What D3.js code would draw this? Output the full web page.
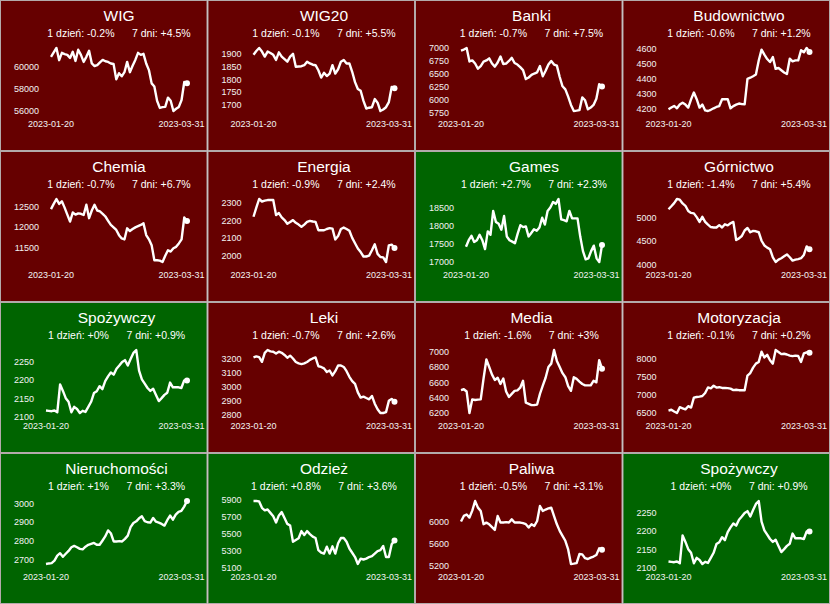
<!DOCTYPE html>
<html>
<head>
<meta charset="utf-8">
<script src="https://cdn.jsdelivr.net/npm/d3@7"></script>
<style>
  body { margin: 0; background: #fff; }
  svg { display: block; font-family: "Liberation Sans", Arial, sans-serif; }
</style>
</head>
<body>
<svg id="svg" width="830" height="604"></svg>
<script>
// sectors, in grid order (4 x 4)
const names = ["WIG", "WIG20", "Banki", "Budownictwo",
               "Chemia", "Energia", "Games", "Górnictwo",
               "Spożywczy", "Leki", "Media", "Motoryzacja",
               "Nieruchomości", "Odzież", "Paliwa", "Spożywczy"];

// change in % over 1 day and 7 days
const dayChange  = [-0.2, -0.1, -0.7, -0.6, -0.7, -0.9, 2.7, -1.4, 0, -0.7, -1.6, -0.1, 1, 0.8, -0.5, 0];
const weekChange = [4.5, 5.5, 7.5, 1.2, 6.7, 2.4, 2.3, 5.4, 0.9, 2.6, 3, 0.2, 3.3, 3.6, 3.1, 0.9];

// y tick labels per panel
const yTicks = [
  [56000, 58000, 60000],
  [1700, 1750, 1800, 1850, 1900],
  [5750, 6000, 6250, 6500, 6750, 7000],
  [4200, 4300, 4400, 4500, 4600],
  [11500, 12000, 12500],
  [2000, 2100, 2200, 2300],
  [17000, 17500, 18000, 18500],
  [4000, 4500, 5000],
  [2100, 2150, 2200, 2250],
  [2800, 2900, 3000, 3100, 3200],
  [6200, 6400, 6600, 6800, 7000],
  [6500, 7000, 7500, 8000],
  [2700, 2800, 2900, 3000],
  [5100, 5300, 5500, 5700, 5900],
  [5200, 5600, 6000],
  [2100, 2150, 2200, 2250]
];

// closing values, trading days 2023-01-20 .. 2023-03-31
const wig = [60900,61300,61700,60600,61260,61150,61080,60800,61360,60530,61540,61080,60440,60900,61450,60300,60070,60150,60400,60620,
  60500,60440,60300,60250,58860,59420,59140,59510,60440,59510,60100,60620,61260,61080,61170,60300,59700,58500,58220,56930,
  56280,56350,56370,57210,56930,56000,56200,56370,57000,58620,58500];
const wig20 = [1897,1912,1924,1910,1890,1910,1904,1897,1877,1907,1890,1880,1870,1890,1901,1850,1851,1852,1856,1870,
  1863,1858,1856,1836,1807,1826,1813,1823,1856,1823,1840,1870,1877,1863,1863,1830,1789,1762,1755,1715,
  1685,1688,1690,1722,1708,1675,1681,1690,1710,1770,1765];
const banki = [6950,6970,7000,6740,6760,6700,6600,6650,6737,6760,6800,6700,6640,6720,6836,6690,6700,6750,6810,6710,
  6680,6630,6572,6400,6430,6480,6507,6530,6651,6454,6560,6680,6750,6680,6660,6440,6260,6200,6060,5900,
  5783,5790,5800,6046,5990,5816,5850,5900,6020,6300,6256];
const budownictwo = [4193,4205,4216,4200,4225,4238,4225,4205,4260,4306,4261,4205,4225,4186,4182,4190,4200,4209,4215,4261,
  4261,4261,4200,4215,4225,4232,4228,4227,4397,4405,4415,4426,4520,4593,4560,4530,4510,4543,4464,4470,
  4455,4440,4430,4532,4515,4521,4521,4589,4575,4604,4577];
const chemia = [12434,12560,12680,12560,12623,12470,12300,12131,12352,12300,12330,12320,12290,12541,12213,12400,12541,12400,12377,12320,
  12254,12150,12049,11990,11926,11800,11721,11696,11967,11900,11950,11990,12020,12049,12090,11803,11700,11557,11188,11188,
  11180,11147,11300,11434,11400,11480,11516,11600,11696,12230,12147];
const energia = [2219,2270,2319,2305,2310,2313,2313,2313,2228,2240,2215,2200,2180,2190,2200,2185,2175,2162,2175,2190,
  2196,2192,2190,2143,2143,2143,2150,2155,2152,2091,2110,2150,2158,2150,2140,2100,2070,2040,2020,1995,
  1995,2000,2030,2064,2010,1992,1990,1964,2058,2062,2043];
const games = [17422,17600,17720,17550,17600,17750,17600,17356,17844,17750,18406,18100,18050,17890,18265,17703,17600,17560,17516,17780,
  18012,17960,17980,17703,17800,17900,17860,17950,18219,18031,18406,18500,18650,18600,18734,18172,18150,18120,18406,18200,
  18200,18200,17700,17300,17075,17100,17300,17450,17100,17000,17469];
const gornictwo = [5167,5230,5297,5384,5370,5290,5240,5130,5090,5080,5000,4899,5007,4900,4840,4790,4780,4780,4830,4780,
  4848,4826,4870,4899,4514,4550,4600,4717,4770,4680,4710,4700,4680,4500,4400,4355,4320,4150,4050,4100,
  4130,4170,4210,4150,4079,4100,4110,4130,4200,4380,4319];
const spozywczy = [2116,2115,2114,2116,2111,2188,2170,2150,2140,2111,2126,2120,2109,2115,2112,2126,2140,2164,2169,2183,
  2175,2197,2210,2221,2215,2231,2240,2250,2255,2240,2258,2275,2283,2226,2202,2190,2178,2170,2176,2159,
  2142,2150,2159,2165,2193,2180,2180,2180,2178,2199,2199];
const leki = [3207,3215,3210,3176,3240,3260,3250,3248,3235,3248,3240,3225,3205,3220,3200,3175,3165,3160,3165,3175,
  3190,3200,3207,3145,3140,3130,3104,3115,3080,3110,3150,3150,3140,3110,3070,3040,3020,2960,2923,2930,
  2920,2911,2935,2880,2840,2814,2814,2820,2900,2914,2894];
const media = [6498,6510,6480,6200,6378,6370,6375,6378,6650,6898,6800,6700,6631,6660,6578,6650,6480,6409,6450,6489,
  6495,6530,6620,6334,6320,6303,6305,6310,6450,6556,6660,6800,6844,7022,6880,6800,6720,6667,6550,6489,
  6667,6645,6610,6578,6560,6560,6560,6620,6600,6889,6778];
const motoryzacja = [6566,6590,6540,6500,6659,6630,6600,6688,6650,6922,6940,6950,6969,7050,7203,7180,7250,7200,7210,7190,
  7190,7184,7170,7130,7140,7128,7128,7128,7531,7600,7750,7859,7906,8188,8030,8100,7950,7859,8234,8180,
  8120,8130,8110,8080,8066,8080,8070,7906,8141,8170,8159];
const nieruchomosci = [2675,2678,2680,2693,2720,2733,2714,2730,2745,2765,2772,2765,2756,2754,2768,2778,2783,2788,2778,2778,
  2800,2823,2855,2840,2796,2796,2798,2796,2810,2827,2873,2895,2904,2920,2931,2905,2899,2897,2922,2902,
  2897,2890,2881,2910,2935,2913,2940,2955,2960,2983,3013];
const odziez = [5880,5880,5875,5800,5770,5780,5740,5700,5627,5710,5749,5680,5610,5590,5400,5420,5440,5525,5480,5525,
  5490,5460,5443,5300,5270,5259,5341,5260,5345,5260,5382,5443,5443,5400,5320,5270,5219,5137,5200,5190,
  5200,5219,5230,5259,5290,5300,5349,5219,5219,5370,5414];
const paliwa = [6000,6103,6130,6073,6200,6376,6255,6194,5952,5980,5950,5900,5848,6103,5982,5982,5990,5982,6040,5982,
  5982,5982,5970,5952,5891,5952,5920,6010,6285,6194,6220,6240,6255,6100,5950,5830,5740,5649,5490,5224,
  5230,5240,5406,5400,5330,5315,5340,5360,5388,5510,5485];

const series = [wig, wig20, banki, budownictwo, chemia, energia, games, gornictwo,
                spozywczy, leki, media, motoryzacja, nieruchomosci, odziez, paliwa, spozywczy];

// trading days (weekdays) between first and last date
const parse = d3.timeParse("%Y-%m-%d");
const fmt = d3.timeFormat("%Y-%m-%d");
const dates = d3.timeDay.range(parse("2023-01-20"), d3.timeDay.offset(parse("2023-03-31"), 1))
  .filter(d => d.getDay() !== 0 && d.getDay() !== 6);

const W = 830, H = 604, cols = 4, rows = 4;
const pw = W / cols, ph = H / rows;
const red = "#660000", green = "#006400";
const pct = v => (v >= 0 ? "+" : "") + v + "%";

const svg = d3.select("#svg");

names.forEach((name, k) => {
  const col = k % cols, row = Math.floor(k / cols);
  const g = svg.append("g").attr("transform", `translate(${col * pw},${row * ph})`);
  const data = series[k].map((v, i) => ({date: dates[i], value: v}));

  g.append("rect")
    .attr("x", 0.5).attr("y", 0.5)
    .attr("width", pw - 1).attr("height", ph - 1)
    .attr("fill", dayChange[k] >= 0 ? green : red)
    .attr("stroke", "#b3aaaa");

  const digits = String(d3.max(yTicks[k])).length;
  const labelEnd = 14 + digits * 5;
  const left = labelEnd + 12, right = 187;

  const x = d3.scalePoint().domain(dates).range([left, right]);
  const y = d3.scaleLinear().domain(d3.extent(series[k])).range([111, 48]);

  const mid = (left + right) / 2;
  g.append("text")
    .attr("x", mid).attr("y", 21)
    .attr("text-anchor", "middle")
    .attr("font-size", 15.5)
    .attr("fill", "#fff")
    .text(name);

  g.append("text")
    .attr("x", mid).attr("y", 37)
    .attr("text-anchor", "middle")
    .attr("font-size", 10.5)
    .attr("fill", "#fff")
    .style("white-space", "pre")
    .text(`1 dzień: ${pct(dayChange[k])}      7 dni: ${pct(weekChange[k])}`);

  const yAxis = d3.axisLeft(y).tickValues(yTicks[k]).tickSize(0).tickPadding(0).tickFormat(d3.format("d"));
  const ya = g.append("g").attr("transform", `translate(${labelEnd},0)`).call(yAxis);
  ya.select(".domain").remove();
  ya.selectAll("text").attr("fill", "#f2f2f2").attr("font-size", 9).attr("font-family", null);

  g.append("text")
    .attr("x", left).attr("y", 127)
    .attr("text-anchor", "middle")
    .attr("font-size", 9).attr("fill", "#f2f2f2")
    .text(fmt(dates[0]));
  g.append("text")
    .attr("x", 204.5).attr("y", 127)
    .attr("text-anchor", "end")
    .attr("font-size", 9).attr("fill", "#f2f2f2")
    .text(fmt(dates[dates.length - 1]));

  const line = d3.line().x(d => x(d.date)).y(d => y(d.value));
  g.append("path")
    .datum(data)
    .attr("d", line)
    .attr("fill", "none")
    .attr("stroke", "#fff")
    .attr("stroke-width", 2.4)
    .attr("stroke-linejoin", "round");

  const last = data[data.length - 1];
  g.append("circle")
    .attr("cx", x(last.date)).attr("cy", y(last.value))
    .attr("r", 3)
    .attr("fill", "#fff");
});
</script>
</body>
</html>
